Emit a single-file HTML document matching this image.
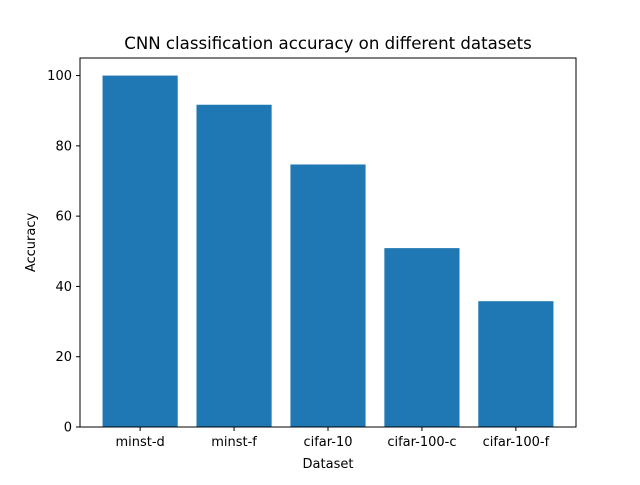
<!DOCTYPE html>
<html><head><meta charset="utf-8"><style>
body{margin:0;background:#fff;font-family:"Liberation Sans","DejaVu Sans",sans-serif}
svg text{font-family:"DejaVu Sans","Liberation Sans",sans-serif}
</style></head><body>
<svg id="chart" width="640" height="480">
<rect width="640" height="480" fill="#fff"/>
<text x="328" y="49" text-anchor="middle" font-size="16.6">CNN classification accuracy on different datasets</text>
<g id="bars"></g><g id="ticks"></g>
<rect x="80" y="58" width="496" height="369" fill="none" stroke="#000" stroke-width="1"/>
<text x="328" y="468" text-anchor="middle" font-size="13">Dataset</text>
<text transform="translate(35,242.5) rotate(-90)" text-anchor="middle" font-size="13">Accuracy</text>
</svg>
<script>
const categories=["minst-d","minst-f","cifar-10","cifar-100-c","cifar-100-f"];
const values=[100,91.7,74.7,50.9,35.8];
const yTicks=[0,20,40,60,80,100];
const L=80,R=576,T=58,B=427,ymax=105,xmin=-0.64,xmax=4.64;
const ns="http://www.w3.org/2000/svg";
const xs=v=>L+(v-xmin)/(xmax-xmin)*(R-L);
const ys=v=>B-v/ymax*(B-T);
const bars=document.getElementById('bars'),ticks=document.getElementById('ticks');
function mk(t,a,p){const e=document.createElementNS(ns,t);for(const k in a)e.setAttribute(k,a[k]);p.appendChild(e);return e;}
categories.forEach((c,i)=>{
 const r=mk('rect',{x:xs(i-0.4),y:ys(values[i]),width:xs(i+0.4)-xs(i-0.4),height:B-ys(values[i]),fill:'#1f77b4'},bars);
 
 
 const l=mk('line',{x1:xs(i),x2:xs(i),y1:B,y2:B+4,stroke:'#000'},ticks);
 
 
 const t=mk('text',{x:xs(i),y:B+19,'text-anchor':'middle','font-size':'13'},ticks);t.textContent=c;
 
 
});
yTicks.forEach(v=>{
 const l=mk('line',{x1:L-4,x2:L,y1:ys(v),y2:ys(v),stroke:'#000'},ticks);
 
 
 const t=mk('text',{x:L-8,y:ys(v)+4.5,'text-anchor':'end','font-size':'13'},ticks);t.textContent=v;
 
 
});
</script>
</body></html>
